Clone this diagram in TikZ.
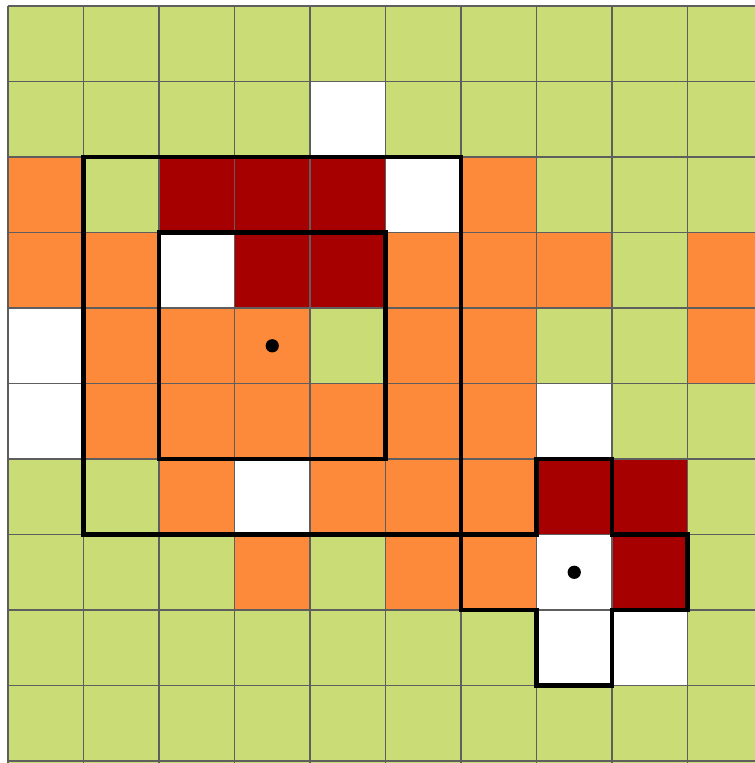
\documentclass[tikz,border=0pt]{standalone}
\usepackage{tikz}
\usetikzlibrary{positioning}
\definecolor{grn}{HTML}{C9DC76}
\definecolor{org}{HTML}{FC8A3A}
\definecolor{drd}{HTML}{A60000}
\definecolor{grd}{HTML}{5E5E5E}
\tikzset{
  gridline/.style={grd, line width=0.6pt},
  hood/.style={black, line width=1.6pt, line join=miter},
  centre/.style={circle, fill=black, inner sep=0pt, minimum size=5pt},
}

\begin{document}
\begin{tikzpicture}[y=-1cm]
 \useasboundingbox (-0.106,-0.08) rectangle (9.894,10.026);
 % lattice, rows counted downwards
 \fill[grn] (0,0) rectangle (9.894,10.026);
 \foreach \c/\r in {0/2,6/2, 0/3,1/3,5/3,6/3,7/3,9/3, 1/4,2/4,3/4,5/4,6/4,9/4,
                    1/5,2/5,3/5,4/5,5/5,6/5, 2/6,4/6,5/6,6/6, 3/7,5/7,6/7}
   \fill[org] (\c,\r) rectangle ++(1,1);
 \foreach \c/\r in {2/2,3/2,4/2, 3/3,4/3, 7/6,8/6, 8/7}
   \fill[drd] (\c,\r) rectangle ++(1,1);
 \foreach \c/\r in {4/1, 5/2, 2/3, 0/4, 0/5, 7/5, 3/6, 7/7, 7/8, 8/8}
   \fill[white] (\c,\r) rectangle ++(1,1);
 \draw[gridline] (0,0) grid (9.894,10.026);
 % Moore neighbourhoods, radius 2 and 1
 \draw[hood] (1,2) rectangle (6,7);
 \draw[hood] (2,3) rectangle (5,6);
 % von Neumann neighbourhood
 \draw[hood] (7,6) -- (8,6) -- (8,7) -- (9,7) -- (9,8) -- (8,8) -- (8,9)
   -- (7,9) -- (7,8) -- (6,8) -- (6,7) -- (7,7) -- cycle;
 % centre cells
 \node[centre] (moore) at (3.5,4.5) {};
 \node[centre] (neumann) at (7.5,7.5) {};
\end{tikzpicture}
\end{document}
